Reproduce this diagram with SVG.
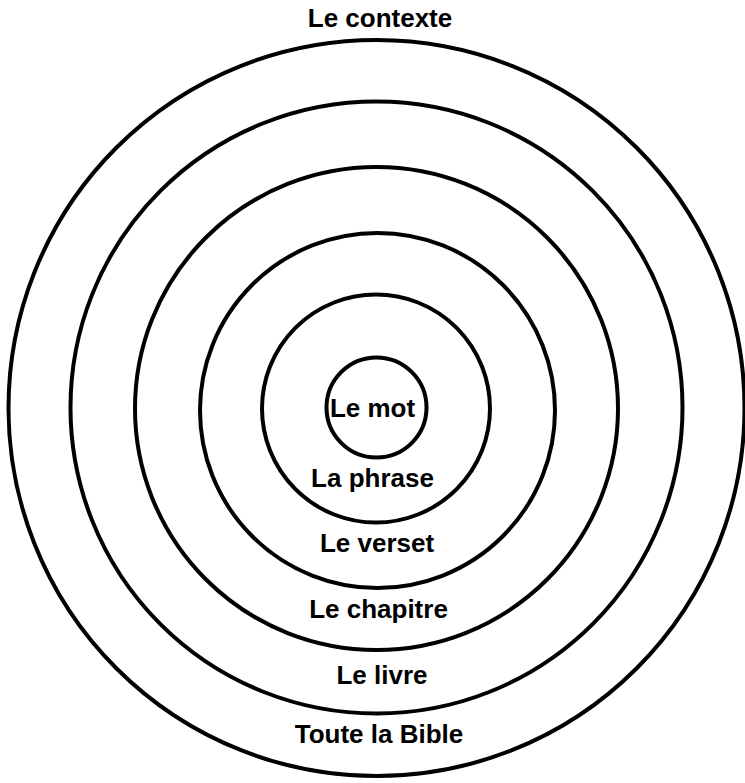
<svg xmlns="http://www.w3.org/2000/svg" width="745" height="783" viewBox="0 0 745 783">
<style>
.ring{fill:none;stroke:#000;stroke-width:4}
.lbl{font-family:"Liberation Sans",Arial,sans-serif;font-weight:bold;font-size:26px;fill:#000;text-anchor:middle}
</style>
<rect width="745" height="783" fill="#fff"/>
<g id="contexte"><circle class="ring" cx="376.5" cy="408" r="368"/><text class="lbl" x="380" y="27">Le contexte</text></g>
<g id="bible"><circle class="ring" cx="376.5" cy="407.5" r="306"/><text class="lbl" x="379" y="743">Toute la Bible</text></g>
<g id="livre"><circle class="ring" cx="376.5" cy="408.5" r="241.5"/><text class="lbl" x="382" y="684">Le livre</text></g>
<g id="chapitre"><circle class="ring" cx="377.5" cy="410.5" r="177.5"/><text class="lbl" x="378.5" y="618">Le chapitre</text></g>
<g id="verset"><circle class="ring" cx="376" cy="408.5" r="114"/><text class="lbl" x="377" y="552">Le verset</text></g>
<g id="phrase"><text class="lbl" x="372.5" y="487">La phrase</text></g>
<g id="mot"><circle class="ring" cx="376.5" cy="407.5" r="50"/><text class="lbl" x="372.5" y="417">Le mot</text></g>
<g id="connectors"></g>
</svg>
